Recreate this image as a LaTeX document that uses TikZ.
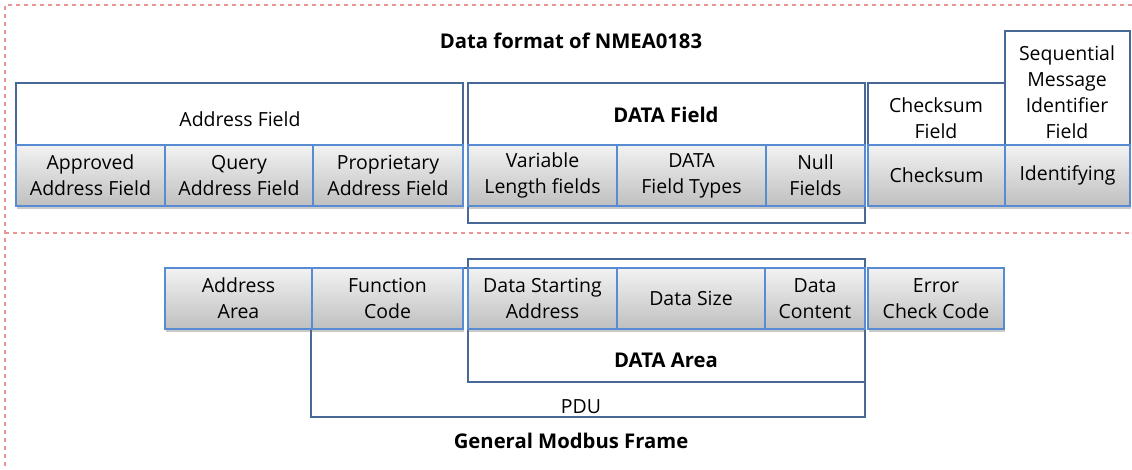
\documentclass[tikz,border=0pt]{standalone}
\usepackage{fontspec}
\setmainfont{Open Sans}
\usetikzlibrary{shadows}
\definecolor{cellblue}{RGB}{88,140,210}
\definecolor{frameblue}{RGB}{72,105,152}
\definecolor{dashred}{RGB}{232,150,150}
\tikzset{
  txt/.style={font=\fontsize{14.6}{19.5}\selectfont, align=center, inner sep=0pt},
  btxt/.style={font=\fontsize{15.2}{19.5}\selectfont\bfseries, align=center, inner sep=0pt},
  cellbox/.style={draw=cellblue, line width=1.6pt, top color=black!5, bottom color=black!25,
    inner sep=0pt, outer sep=0pt, align=center, font=\fontsize{14.6}{19.5}\selectfont,
    drop shadow={shadow xshift=0.6pt, shadow yshift=-2.2pt, opacity=0.35, fill=black!60}},
  framebox/.style={draw=frameblue, line width=0.9pt, inner sep=0pt, outer sep=0pt, fill=white},
  sepline/.style={draw=dashred, dashed, line width=0.8pt}
}
% \mybox{style}{name}{x1}{y1}{x2}{y2}{text}
\newcommand{\mybox}[7]{%
  \pgfmathsetmacro{\cx}{(#3+#5)/2}%
  \pgfmathsetmacro{\cy}{(#4+#6)/2}%
  \pgfmathsetmacro{\bw}{(#5-#3)*0.75}%
  \pgfmathsetmacro{\bh}{(#6-#4)*0.75}%
  \node[#1, minimum width=\bw pt, minimum height=\bh pt] (#2) at (\cx,\cy) {#7};}
\begin{document}
\begin{tikzpicture}[x=0.75pt,y=-0.75pt]
\useasboundingbox (0,0) rectangle (1132,469);
% dashed separators
\coordinate (tl) at (5,5);
\coordinate (tr) at (1132,5);
\coordinate (bl) at (5,469);
\coordinate (ml) at (5,233);
\coordinate (mr) at (1132,233);
\draw[sepline] (tr) -- (tl) -- (bl);
\draw[sepline] (ml) -- (mr);

% ---------- NMEA0183 ----------
\node[btxt] (title1) at (571,41) {Data format of NMEA0183};

\mybox{framebox}{addrF}{16}{83}{463}{206}{}
\mybox{framebox}{dataF}{468}{83}{865}{223}{}
\mybox{framebox}{chkF}{868}{83}{1005}{206}{}
\mybox{framebox}{seqF}{1005}{31}{1130}{206}{}

\node[txt] (addrL) at (240,119) {Address Field};
\node[btxt] (dataL) at (666,115) {DATA Field};
\node[txt] (chkL) at (936,118) {Checksum\\Field};
\node[txt] (seqL) at (1067,92) {Sequential\\Message\\Identifier\\Field};

\mybox{cellbox}{c1}{16}{145}{165}{206}{Approved\\Address Field}
\mybox{cellbox}{c2}{165}{145}{313}{206}{Query\\Address Field}
\mybox{cellbox}{c3}{313}{145}{463}{206}{Proprietary\\Address Field}
\mybox{cellbox}{c4}{468}{145}{617}{206}{Variable\\Length fields}
\mybox{cellbox}{c5}{617}{145}{766}{206}{DATA\\Field Types}
\mybox{cellbox}{c6}{766}{145}{865}{206}{Null\\Fields}
\mybox{cellbox}{c7}{868}{145}{1005}{206}{Checksum}
\mybox{cellbox}{c8}{1005}{145}{1130}{206}{Identifying}

% ---------- Modbus ----------
\mybox{framebox}{pduF}{311}{268}{865}{417}{}
\mybox{framebox}{dataA}{468}{259}{865}{382}{}
\node[btxt] (dataAL) at (666,360) {DATA Area};
\node[txt] (pduL) at (581,407) {PDU};
\node[btxt] (title2) at (571,441) {General Modbus Frame};

\mybox{cellbox}{m1}{165}{268}{312}{329}{Address\\Area}
\mybox{cellbox}{m2}{312}{268}{463}{329}{Function\\Code}
\mybox{cellbox}{m3}{468}{268}{617}{329}{Data Starting\\Address}
\mybox{cellbox}{m4}{617}{268}{765}{329}{Data Size}
\mybox{cellbox}{m5}{765}{268}{865}{329}{Data\\Content}
\mybox{cellbox}{m6}{868}{268}{1004}{329}{Error\\Check Code}
\end{tikzpicture}
\end{document}
